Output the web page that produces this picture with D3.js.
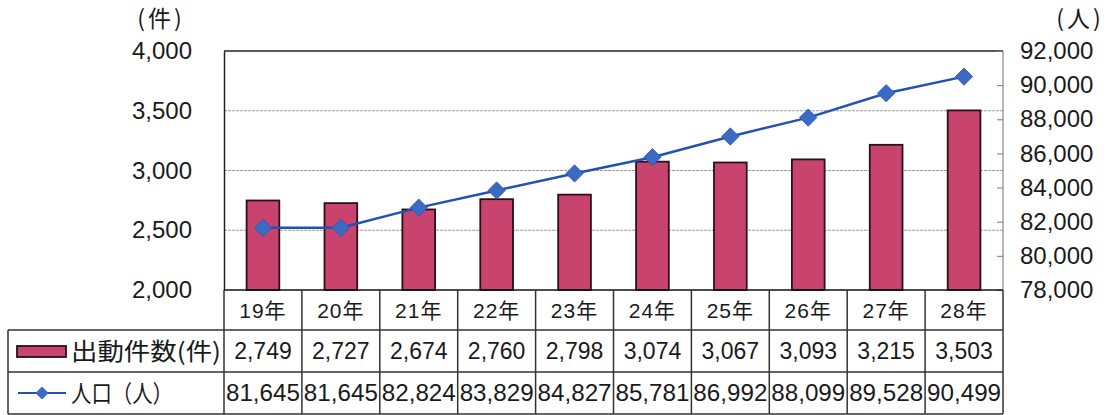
<!DOCTYPE html>
<html><head><meta charset="utf-8">
<script src="https://cdn.jsdelivr.net/npm/d3@7"></script>
<style>
body{margin:0;background:#fff;}
svg{display:block;}
text{fill:#1a1a1a;}
</style></head>
<body>
<svg id="c" width="1107" height="415"></svg>
<script>
const categories = ["19年","20年","21年","22年","23年","24年","25年","26年","27年","28年"];
const dispatches = [2749,2727,2674,2760,2798,3074,3067,3093,3215,3503];
const population = [81645,81645,82824,83829,84827,85781,86992,88099,89528,90499];
const leftTicks = [2000,2500,3000,3500,4000];
const rightTicks = [78000,80000,82000,84000,86000,88000,90000,92000];
const seriesNames = ["出動件数(件)","人口（人）"];
const leftUnit = "(件)", rightUnit = "(人)";

const svg = d3.select("#c");
const L = 224, R = 1003, T = 51, B = 290;
const rowY = [290, 330, 372, 414];
const tableLeft = 8;
const numFont = "'Liberation Sans', Arial, sans-serif";
const jpFont = "'Noto Sans CJK JP', sans-serif";
const mixFont = "'Liberation Sans', 'Noto Sans CJK JP', sans-serif";
const barColor = "#c8446f", barStroke = "#2a1018", lineColor = "#2152b3", markColor = "#3a6ac4";

const x = d3.scaleBand().domain(categories).range([L, R]).padding(0);
const yL = d3.scaleLinear().domain([2000, 4000]).range([B, T]);
const yR = d3.scaleLinear().domain([78000, 92000]).range([B, T]);
const fmt = d3.format(",");

// gridlines
svg.append("g").selectAll("line").data(leftTicks.filter(d => d > 2000 && d < 4000)).join("line")
  .attr("x1", L).attr("x2", R).attr("y1", d => yL(d)).attr("y2", d => yL(d))
  .attr("stroke", "#9a9a9a").attr("stroke-width", 1).attr("stroke-dasharray", "3,1");

// plot border
svg.append("line").attr("x1", L).attr("x2", R).attr("y1", T).attr("y2", T).attr("stroke", "#222").attr("stroke-width", 1.5);
svg.append("line").attr("x1", R).attr("x2", R).attr("y1", T).attr("y2", B).attr("stroke", "#888").attr("stroke-width", 1.2);

// bars
const bw = x.bandwidth() * 0.42;
svg.append("g").selectAll("rect").data(dispatches).join("rect")
  .attr("x", (d, i) => x(categories[i]) + (x.bandwidth() - bw) / 2)
  .attr("y", d => yL(d))
  .attr("width", bw)
  .attr("height", d => B - yL(d))
  .attr("fill", barColor).attr("stroke", barStroke).attr("stroke-width", 1.8);

// left axis
const gL = svg.append("g").attr("transform", `translate(${L},0)`)
  .call(d3.axisLeft(yL).tickValues(leftTicks).tickFormat(fmt).tickSize(0).tickPadding(32));
gL.select(".domain").attr("stroke", "#222").attr("stroke-width", 1.5);
gL.selectAll("text").attr("font-family", numFont).attr("font-size", 24).attr("fill", "#1a1a1a");

// right axis
const gR = svg.append("g").attr("transform", `translate(${R},0)`)
  .call(d3.axisRight(yR).tickValues(rightTicks).tickFormat(fmt).tickSizeInner(-6).tickSizeOuter(0).tickPadding(17));
gR.select(".domain").remove();
gR.selectAll("line").attr("stroke", "#777");
gR.selectAll("text").attr("font-family", numFont).attr("font-size", 24).attr("fill", "#1a1a1a").attr("x", 17);

// unit labels
svg.append("text").attr("x", 161).attr("y", 27).attr("text-anchor", "middle")
  .attr("font-family", jpFont).attr("font-size", 23).attr("letter-spacing", 3).text(leftUnit);
svg.append("text").attr("x", 1080).attr("y", 27).attr("text-anchor", "middle")
  .attr("font-family", jpFont).attr("font-size", 23).attr("letter-spacing", 3).text(rightUnit);

// line
const line = d3.line().x((d, i) => x(categories[i]) + x.bandwidth() / 2).y(d => yR(d));
svg.append("path").datum(population).attr("d", line)
  .attr("fill", "none").attr("stroke", lineColor).attr("stroke-width", 2.5);
const diamond = d3.symbol().type(d3.symbolDiamond2).size(190);
svg.append("g").selectAll("path").data(population).join("path")
  .attr("d", diamond)
  .attr("transform", (d, i) => `translate(${x(categories[i]) + x.bandwidth() / 2},${yR(d)})`)
  .attr("fill", markColor).attr("stroke", "#2a55a8").attr("stroke-width", 0.8);

// table
const tg = svg.append("g");
const tStroke = "#333";
tg.append("line").attr("x1", L).attr("x2", R).attr("y1", rowY[0]).attr("y2", rowY[0]).attr("stroke", "#111").attr("stroke-width", 1.5);
[rowY[1], rowY[2], rowY[3]].forEach(yy => {
  tg.append("line").attr("x1", tableLeft).attr("x2", R).attr("y1", yy).attr("y2", yy)
    .attr("stroke", tStroke).attr("stroke-width", 1.5);
});
tg.append("line").attr("x1", tableLeft).attr("x2", tableLeft).attr("y1", rowY[1]).attr("y2", rowY[3]).attr("stroke", tStroke).attr("stroke-width", 1.5);
const vx = categories.map(c => x(c)).concat([R]);
tg.selectAll("line.v").data(vx).join("line").attr("class", "v")
  .attr("x1", d => d).attr("x2", d => d).attr("y1", rowY[0]).attr("y2", rowY[3])
  .attr("stroke", tStroke).attr("stroke-width", 1.5);

// category labels
tg.selectAll("text.cat").data(categories).join("text").attr("class", "cat")
  .attr("x", d => x(d) + x.bandwidth() / 2).attr("y", (rowY[0] + rowY[1]) / 2 + 8)
  .attr("text-anchor", "middle").attr("font-family", mixFont).attr("font-size", 21)
  .attr("letter-spacing", 1).text(d => d);
// values
tg.selectAll("text.v1").data(dispatches).join("text").attr("class", "v1")
  .attr("x", (d, i) => x(categories[i]) + x.bandwidth() / 2).attr("y", (rowY[1] + rowY[2]) / 2 + 8)
  .attr("text-anchor", "middle").attr("font-family", numFont).attr("font-size", 23).text(d => fmt(d));
tg.selectAll("text.v2").data(population).join("text").attr("class", "v2")
  .attr("x", (d, i) => x(categories[i]) + x.bandwidth() / 2).attr("y", (rowY[2] + rowY[3]) / 2 + 8)
  .attr("text-anchor", "middle").attr("font-family", numFont).attr("font-size", 23).attr("textLength", 74).attr("lengthAdjust", "spacingAndGlyphs").text(d => fmt(d));

// legend keys
const m1 = (rowY[1] + rowY[2]) / 2, m2 = (rowY[2] + rowY[3]) / 2;
tg.append("rect").attr("x", 17).attr("y", m1 - 5).attr("width", 49).attr("height", 11)
  .attr("fill", barColor).attr("stroke", barStroke).attr("stroke-width", 1.8);
tg.append("text").attr("x", 71).attr("y", m1 + 9).attr("font-family", jpFont).attr("font-size", 24)
  .attr("textLength", 150).attr("lengthAdjust", "spacingAndGlyphs").text(seriesNames[0]);
tg.append("line").attr("x1", 18).attr("x2", 66).attr("y1", m2).attr("y2", m2).attr("stroke", lineColor).attr("stroke-width", 2);
tg.append("path").attr("d", d3.symbol().type(d3.symbolDiamond2).size(110)())
  .attr("transform", `translate(42,${m2})`).attr("fill", markColor);
tg.append("text").attr("x", 71).attr("y", m2 + 9).attr("font-family", jpFont).attr("font-size", 24)
  .attr("textLength", 102).attr("lengthAdjust", "spacingAndGlyphs").text(seriesNames[1]);
</script>
</body></html>
